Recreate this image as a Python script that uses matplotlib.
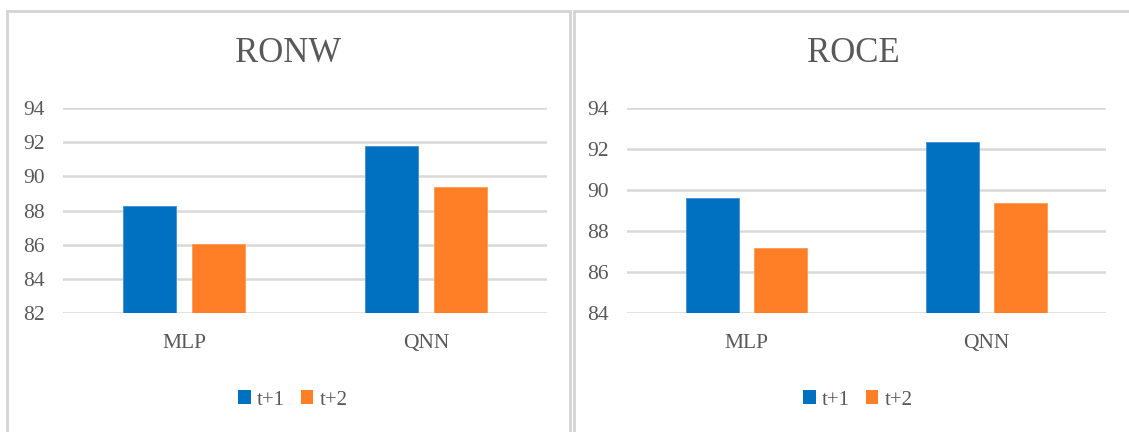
import numpy as np
import matplotlib
matplotlib.use('Agg')
import matplotlib.pyplot as plt
from matplotlib.lines import Line2D
from matplotlib.patches import Patch

# data
models = ['MLP', 'QNN']
series = ['t+1', 't+2']
ronw_t1 = [88.26, 91.78]
ronw_t2 = [86.05, 89.38]
roce_t1 = [89.62, 92.34]
roce_t2 = [87.17, 89.38]
ronw_ticks = [82, 84, 86, 88, 90, 92, 94]
roce_ticks = [84, 86, 88, 90, 92, 94]

blue = '#0070C0'
orange = '#FF7F27'
grey_txt = '#595959'
grid_col = '#D9D9D9'

plt.rcParams['font.family'] = ['Liberation Serif', 'DejaVu Serif']

W, H = 1129, 432
fig = plt.figure(figsize=(W / 100, H / 100), dpi=100)


def px(x, y):
    # pixel (from top-left) to figure fraction
    return x / W, 1 - y / H


def panel(rect, title, t1, t2, ticks, title_x):
    ax = fig.add_axes(rect)
    x = np.arange(len(models))
    bw = 0.222
    off = 0.142
    ax.bar(x - off, np.array(t1) - ticks[0], bw, bottom=ticks[0], color=blue,
           edgecolor='#3D8FD6', linewidth=0.6, zorder=3)
    ax.bar(x + off, np.array(t2) - ticks[0], bw, bottom=ticks[0], color=orange,
           edgecolor='#FF9A55', linewidth=0.6, zorder=3)
    ax.set_xlim(-0.5, 1.5)
    ax.set_ylim(ticks[0], ticks[-1])
    ax.set_yticks(ticks)
    ax.set_xticks(x)
    ax.set_xticklabels(models)
    for s in ax.spines.values():
        s.set_visible(False)
    ax.yaxis.grid(True, color=grid_col, linewidth=1.8, zorder=0)
    ax.set_axisbelow(True)
    ax.tick_params(axis='y', length=0, pad=13, labelsize=15.5, labelcolor=grey_txt)
    ax.tick_params(axis='x', length=0, pad=15, labelsize=15.5, labelcolor=grey_txt)
    tx, ty = px(title_x, 54)
    fig.text(tx, ty, title, ha='center', va='center', fontsize=25, color=grey_txt)
    return ax


ax1 = panel([63 / W, 1 - 313 / H, 484 / W, 205 / H], 'RONW', ronw_t1, ronw_t2, ronw_ticks, 288)
ax2 = panel([627 / W, 1 - 313 / H, 479 / W, 205 / H], 'ROCE', roce_t1, roce_t2, roce_ticks, 853)

handles = [Patch(facecolor=blue, edgecolor='none'), Patch(facecolor=orange, edgecolor='none')]
for cx in [293, 858]:
    fig.legend(handles, series, loc='center', bbox_to_anchor=px(cx, 400), frameon=False,
               ncol=2, fontsize=15, labelcolor=grey_txt, handlelength=0.6,
               handleheight=0.65, handletextpad=0.3, columnspacing=0.75)

# chart area borders
border = dict(color='#D4D4D4', linewidth=2, transform=fig.transFigure)
fig.add_artist(Line2D([7 / W, 570 / W], [1 - 11 / H] * 2, **border))
fig.add_artist(Line2D([7 / W] * 2, [0, 1 - 11 / H], **border))
fig.add_artist(Line2D([570 / W] * 2, [0, 1 - 11 / H], **border))
fig.add_artist(Line2D([574 / W, 1], [1 - 11 / H] * 2, **border))
fig.add_artist(Line2D([574 / W] * 2, [0, 1 - 11 / H], **border))

fig.savefig('out.png', dpi=100, facecolor='white')
